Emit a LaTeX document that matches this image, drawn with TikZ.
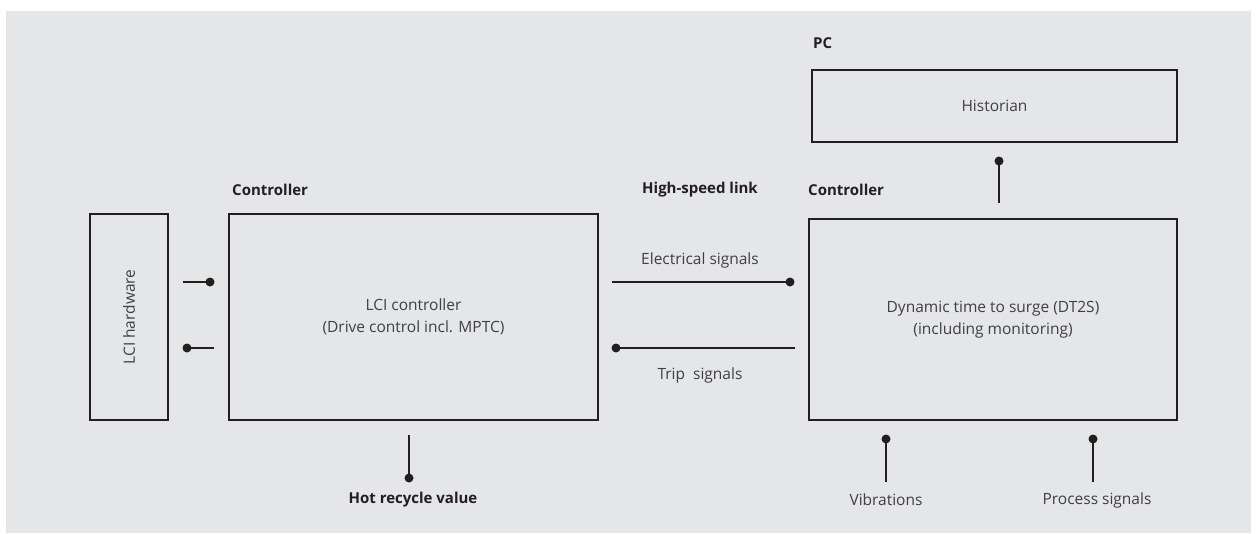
\documentclass[tikz,border=0pt]{standalone}
\usepackage{fontspec}
\setmainfont{Open Sans}
\definecolor{bgc}{HTML}{E5E6E8}
\definecolor{ink}{HTML}{231F20}
\definecolor{txt}{HTML}{404042}
\begin{document}
\begin{tikzpicture}[x=1pt,y=-1pt,
  blk/.style={draw=ink,line width=2.6pt,inner sep=0pt},
  lbl/.style={text=txt,font=\fontsize{15.5}{22}\selectfont,inner sep=0pt},
  hdr/.style={text=ink,font=\fontsize{15}{18}\selectfont\bfseries,inner sep=0pt},
  wire/.style={draw=ink,line width=1.8pt},
  dot/.style={circle,fill=ink,inner sep=0pt,minimum size=9pt}]
\useasboundingbox (0,0) rectangle (1258,533);
\fill[bgc] (6,11) rectangle (1251,533);
% boxes
\node[blk,minimum width=78pt,minimum height=206pt] (hw) at (129,317) {};
\node[lbl,rotate=90] at (hw.center) {LCI hardware};
\node[blk,minimum width=369pt,minimum height=206pt] (lci) at (413.5,317) {};
\node[lbl,align=center] at (lci.center) {LCI controller\\(Drive control incl. MPTC)};
\node[blk,minimum width=368pt,minimum height=201pt] (dt) at (993,319.5) {};
\node[lbl,align=center] at (dt.center) {Dynamic time to surge (DT2S)\\(including monitoring)};
\node[blk,minimum width=365pt,minimum height=72pt] (hist) at (994.5,106) {};
\node[lbl] at (hist.center) {Historian};
% headers
\node[hdr,anchor=west] (c1) at (232,190) {Controller};
\node[hdr] (hsl) at (700,190) {High-speed link};
\node[hdr,anchor=west] (c2) at (808,190) {Controller};
\node[hdr,anchor=west] (pc) at (813,43) {PC};
% hardware <-> controller
\coordinate (a1) at (183,282);
\node[dot] (d1) at (210,282) {};
\draw[wire] (a1) -- (d1.center);
\node[dot] (d2) at (187,348) {};
\coordinate (a2) at (214,348);
\draw[wire] (d2.center) -- (a2);
% high speed link
\coordinate (e1) at (612,282);
\node[dot] (d3) at (790,282) {};
\draw[wire] (e1) -- (d3.center);
\node[lbl] (el) at (700,260) {Electrical signals};
\node[dot] (d4) at (616,348) {};
\coordinate (t1) at (795,348);
\draw[wire] (d4.center) -- (t1);
\node[lbl] (tl) at (700,375) {Trip\ \ signals};
% historian link
\node[dot] (d5) at (999,161) {};
\coordinate (h1) at (999,203);
\draw[wire] (d5.center) -- (h1);
% hot recycle
\coordinate (r1) at (409,435);
\node[dot] (d6) at (409,478) {};
\draw[wire] (r1) -- (d6.center);
\node[hdr] (hr) at (413,500) {Hot recycle value};
% vibrations
\node[dot] (d7) at (886,439) {};
\coordinate (v1) at (886,482);
\draw[wire] (d7.center) -- (v1);
\node[lbl] (vl) at (886,500) {Vibrations};
% process signals
\node[dot] (d8) at (1093,439) {};
\coordinate (p1) at (1093,482);
\draw[wire] (d8.center) -- (p1);
\node[lbl] (pl) at (1097,500) {Process signals};
\end{tikzpicture}
\end{document}
